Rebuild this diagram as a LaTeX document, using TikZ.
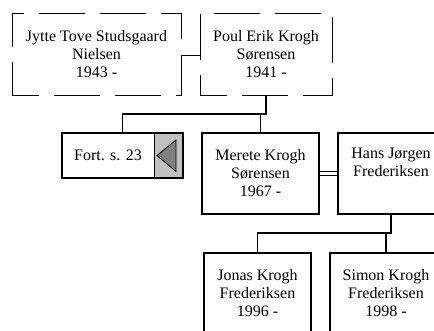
\documentclass[tikz,border=0pt]{standalone}
\usepackage{fontspec}
\setmainfont{Liberation Serif}
\usetikzlibrary{calc}
\definecolor{navgray}{RGB}{192,192,192}
\definecolor{trigray}{RGB}{128,128,128}

\begin{document}
\begin{tikzpicture}[x=1pt,y=-1pt,thick]
\tikzstyle{pn}=[draw=black,line width=1.6pt,align=center,inner sep=0pt,
  minimum height=81pt,font=\fontsize{16}{18}\selectfont]
\tikzstyle{dpn}=[pn,line width=0.8pt,minimum height=82pt,dash pattern=on 46pt off 15pt,dash phase=19pt]
\tikzstyle{wed}=[line width=0.8pt,double,double distance=3pt]
\tikzstyle{kid}=[line width=1.4pt]
\useasboundingbox (0,0) rectangle (434,331);
\clip (0,0) rectangle (434,331);
\node[dpn, minimum width=169pt] (jytte) at (96.5,54)  {Jytte Tove Studsgaard\\Nielsen\\1943 -};
\node[dpn, minimum width=132pt] (poul)  at (266,54)   {Poul Erik Krogh\\Sørensen\\1941 -};
\node[pn, minimum width=121pt, minimum height=45pt,
  path picture={
    \fill[navgray] ([xshift=-29pt]path picture bounding box.north east) rectangle (path picture bounding box.south east);
    \draw[line width=0.6pt] ([xshift=-29pt]path picture bounding box.north east) -- ([xshift=-29pt]path picture bounding box.south east);
    \draw[fill=trigray,line width=0.8pt] ([xshift=-26pt]path picture bounding box.east)
      -- ([xshift=-7pt,yshift=15.5pt]path picture bounding box.east)
      -- ([xshift=-7pt,yshift=-16pt]path picture bounding box.east) -- cycle;
  }]               (fort)   at (122.5,155.5) {Fort. s. 23\hspace{29pt}};
\node[pn, minimum width=117pt] (merete) at (260.5,173.5) {Merete Krogh\\Sørensen\\1967 -};
\node[pn, minimum width=106pt] (hans)   at (391,173.5)   {Hans Jørgen\\Frederiksen\\\strut};
\node[pn, minimum width=107pt] (jonas)  at (257.5,293.5) {Jonas Krogh\\Frederiksen\\1996 -};
\node[pn, minimum width=112pt] (simon)  at (386,293.5)   {Simon Krogh\\Frederiksen\\1998 -};
\coordinate (bar1) at (0,114);
\coordinate (bar2) at (0,233);
% marriages
\draw[wed] (jytte.east)  -- (poul.west);
\draw[wed] (merete.east) -- (hans.west);
% children
\draw[kid] (poul.south) -- (poul.south |- bar1) -| (fort.north);
\draw[kid] (merete.north) -- (merete.north |- bar1);
\draw[kid] (hans.south) -- (hans.south |- bar2) -| (jonas.north);
\draw[kid] (simon.north) -- (simon.north |- bar2);
\end{tikzpicture}
\end{document}
